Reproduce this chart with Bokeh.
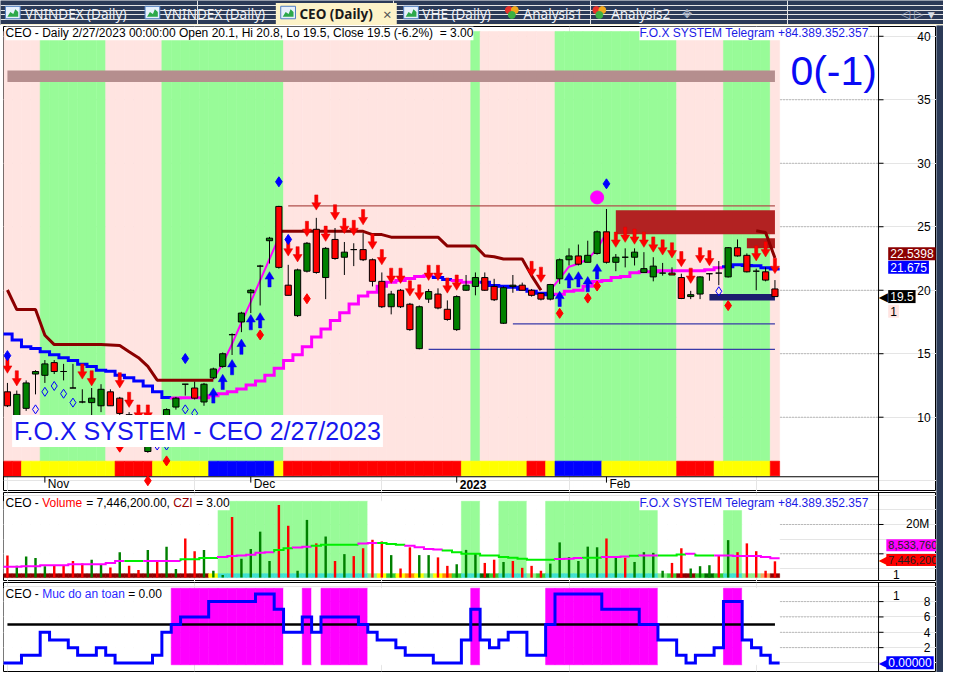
import math
from bokeh.plotting import figure
from bokeh.layouts import column, row
from bokeh.models import Range1d
from bokeh.core.properties import value
from bokeh.embed import file_html
from bokeh.resources import INLINE

_ = float("nan")

# ---------------- chart data ----------------
symbol = "CEO"
last_date = "2/27/2023"
month_ticks = [4, 26, 48, 64]
month_labels = ["Nov", "Dec", "2023", "Feb"]
price_ticks = [10, 15, 20, 25, 30, 35, 40]
vol_ticks = [10, 20]
vol_tick_labels = ["", "20M"]
safety_ticks = [2, 4, 6, 8]

opens = [12.0, 10.0, 10.7, 13.4, 13.3, 14.3, 13.6, 12.3, 11.2, 11.15,
         10.9, 12.0, 11.5, 10.2, 9.2, 7.3, 8.5, 9.8, 10.8, 12.6,
         12.3, 11.2, 13.1, 14.0, 16.5, 17.5, 19.8, 21.9, 23.9, 26.6,
         20.4, 18.0, 21.5, 24.8, 21.0, 24.0, 22.6, 23.2, 23.2, 22.4,
         20.7, 18.7, 20.0, 18.9, 15.4, 19.3, 19.7, 18.5, 16.9, 20.0,
         20.3, 21.0, 20.3, 17.4, 20.3, 20.4, 20.0, 19.75, 19.3, 20.9,
         22.4, 22.7, 22.2, 22.9, 24.6, 22.2, 22.6, 22.6, 21.4, 21.05,
         21.35, 21.35, 21.0, 19.5, 19.7, 21.3, 21.35, 21.05, 23.35, 22.75,
         21.5, 21.45, 20.1]
highs = [12.7, 12.1, 12.9, 13.7, 14.5, 14.5, 14.2, 14.2, 12.2, 12.3,
         12.6, 12.2, 11.6, 10.4, 9.4, 8.6, 9.2, 10.7, 11.6, 12.6,
         12.8, 12.7, 13.9, 15.1, 16.6, 18.3, 20.1, 22.0, 24.2, 26.65,
         22.0, 21.7, 23.8, 25.7, 23.4, 24.9, 23.8, 23.7, 24.5, 22.5,
         21.4, 19.95, 20.1, 19.0, 18.8, 20.1, 20.15, 19.2, 19.6, 21.2,
         21.4, 21.4, 20.9, 20.3, 21.2, 20.6, 20.1, 19.8, 20.5, 22.5,
         23.3, 23.6, 23.9, 24.7, 26.4, 22.85, 23.3, 23.3, 23.0, 22.6,
         22.15, 21.8, 21.3, 19.95, 21.1, 21.35, 22.3, 23.4, 24.0, 22.9,
         21.7, 21.8, 20.8]
lows = [10.8, 9.7, 10.5, 11.8, 12.7, 13.4, 12.9, 12.3, 11.1, 10.0,
        10.4, 10.9, 9.6, 8.8, 8.0, 7.2, 8.3, 9.6, 10.6, 11.7,
        11.4, 10.9, 13.0, 13.9, 14.9, 16.7, 18.2, 18.8, 22.1, 21.7,
        19.6, 17.9, 21.4, 21.3, 19.3, 22.4, 21.2, 21.9, 22.3, 20.3,
        18.6, 18.1, 18.6, 16.8, 15.35, 19.0, 18.5, 17.6, 16.8, 19.95,
        19.6, 19.95, 19.15, 17.35, 19.8, 20.0, 19.5, 19.2, 19.2, 20.5,
        21.95, 21.95, 22.2, 22.8, 22.1, 21.5, 21.8, 21.95, 21.4, 20.7,
        21.15, 21.2, 19.3, 19.3, 19.3, 20.75, 20.4, 21.0, 22.65, 21.4,
        20.0, 20.7, 19.5]
closes = [10.9, 11.8, 12.7, 13.6, 14.2, 13.6, 13.6, 12.3, 11.2, 11.5,
          12.2, 10.9, 10.3, 9.0, 8.3, 8.4, 8.9, 10.6, 11.5, 12.6,
          11.5, 12.6, 13.8, 15.0, 16.5, 18.2, 20.0, 21.9, 24.1, 21.8,
          19.6, 21.6, 23.7, 21.4, 23.3, 22.5, 23.0, 23.2, 22.4, 20.7,
          18.7, 19.7, 18.7, 16.9, 18.7, 19.9, 18.6, 17.7, 19.5, 20.4,
          21.0, 20.0, 19.25, 20.2, 20.4, 20.0, 19.6, 19.3, 20.45, 22.4,
          22.7, 22.05, 22.75, 24.6, 22.2, 22.6, 22.6, 23.0, 21.7, 21.9,
          21.35, 21.2, 19.35, 19.65, 21.05, 21.3, 21.35, 23.35, 22.7, 21.45,
          21.5, 20.8, 19.5]

# trailing stop (dark red), slow trail (blue / magenta), fast trail (magenta)
stop_line = [20.02, 18.48, 18.48, 18.48, 16.46, 15.72, 15.72, 15.72, 15.72, 15.72,
             15.72, 15.69, 15.64, 15.15, 14.69, 14.0, 12.92, 12.92, 12.92, 12.92,
             12.92, 12.92, 12.92, _, _, _, _, _, _, 24.64,
             24.64, 24.64, 24.64, 24.64, 24.64, 24.64, 24.64, 24.64, 24.64, 24.38,
             24.38, 24.18, 24.18, 24.18, 24.18, 24.18, 24.18, 23.48, 23.48, 23.48,
             23.48, 22.72, 22.64, 22.46, 22.46, 22.46, 21.15, 20.0, _, _,
             _, _, _, _, _, _, _, _, _, _,
             _, _, _, _, _, _, _, _, _, _,
             24.69, 24.54, 22.5398]
trail = [16.56, 16.08, 15.54, 15.41, 15.15, 14.92, 14.69, 14.46, 14.18, 14.0,
         13.69, 13.62, 13.31, 13.1, 12.85, 12.46, 12.0, 11.56, 11.52, 11.54,
         11.54, 11.54, 11.69, 11.85, 12.0, 12.23, 12.54, 12.85, 13.31, 13.85,
         14.46, 14.92, 15.54, 16.31, 16.95, 17.62, 18.23, 18.92, 19.54, 19.85,
         20.31, 20.62, 20.77, 20.92, 21.08, 21.15, 21.0, 20.85, 20.77, 20.62,
         20.62, 20.62, 20.38, 20.31, 20.23, 20.08, 19.92, 19.77, 19.64, 19.69,
         19.92, 20.0, 20.31, 20.69, 20.77, 21.0, 21.08, 21.38, 21.46, 21.46,
         21.54, 21.54, 21.54, 21.54, 21.54, 21.62, 21.77, 21.85, 22.0, 21.95,
         21.92, 21.77, 21.675]
trail_up = ("000000000000000000" "1111111111111111111111111111" "00" "111"
            "00000000" "111111111111111111" "000000")
fast_line = [_, _, _, _, _, _, _, _, _, _,
             _, _, _, _, _, _, _, _, _, _,
             _, _, 13.0, 14.23, 15.77, 17.46, 19.08, 20.77, 22.46, 24.15,
             _, _, _, _, _, _, _, _, _, _,
             _, _, _, _, _, _, _, _, _, _,
             _, _, _, _, _, _, _, _, 20.0, 20.92,
             21.85, 22.08, 22.46, 23.23, 24.54, _, _, _, _, _,
             _, _, _, _, _, _, _, _, _, _,
             _, _, _]

regime = ("0000" "1111111" "000000" "1111111111111" "00000000000000000000"
          "1" "00000000" "1111111111111" "00000" "11111" "0")
signal_strip = ("RR" "YYYYYYYYYY" "RRRR" "YYYYYY" "BBBBBBB" "Y"
                "RRRRRRRRRRRRRRRRRRR" "YYYYYYY" "RR" "Y" "BBBBB" "YYYYYYYY"
                "RRRR" "YYYYYY" "R")

sell_idx = [0, 1, 8, 9, 12, 13, 14, 15, 30, 31, 32, 33, 34, 35, 36, 37, 38, 39,
            40, 41, 42, 43, 44, 45, 46, 47, 48, 56, 57, 65, 66, 67, 68, 69, 70,
            71, 72, 73, 74, 75, 80, 81, 82]
sell_tip = [13.46, 12.46, 13.0, 12.46, 12.31, 10.77, 9.77, 9.77, 22.69, 22.23,
            24.23, 26.31, 23.85, 25.54, 24.46, 24.31, 25.15, 23.23, 22.0, 20.54,
            20.54, 19.54, 19.23, 20.77, 20.77, 19.77, 20.0, 21.08, 20.62, 23.38,
            23.77, 23.62, 23.38, 23.0, 22.77, 22.54, 21.85, 20.54, 22.15, 21.92,
            22.31, 22.62, 21.31]
buy_idx = [22, 23, 24, 25, 26, 27, 28, 59, 60, 61, 62, 63]
buy_tip = [12.31, 13.38, 14.54, 16.15, 18.08, 18.23, 21.46, 19.92, 21.38, 21.46, 21.08, 22.08]
blue_dia_idx = [0, 19, 29, 30, 64]
blue_dia_y = [14.85, 14.62, 28.54, 24.0, 28.38]
red_dia_idx = [12, 15, 17, 27, 32, 59, 62, 63, 77]
red_dia_y = [7.64, 5.0, 6.56, 16.48, 19.33, 18.18, 19.38, 20.33, 18.79]
open_dia_idx = [3, 4, 5, 6, 7, 16, 17, 19, 20, 76]
open_dia_y = [10.62, 12.0, 12.46, 11.85, 11.15, 7.77, 7.77, 10.62, 10.31, 19.92]
peak_dot_idx = [63]
peak_dot_y = [27.31]

band_level = [36.4, 37.3]
zone_start = [65, 79, 75]
zone_top = [26.3, 24.1, 19.7]
zone_bottom = [24.4, 23.3, 19.2]
resist_bar = 29
support_bars = [44, 53]

# volume (millions)
volume = [9.45, 5.9, 9.12, 8.56, 5.79, 5.9, 5.9, 7.56, 6.67, 8.0,
          6.45, 5.34, 10.56, 5.9, 4.45, 11.34, 7.56, 12.45, 4.79, 15.23,
          10.9, 11.34, 4.23, 2.78, 22.56, 8.34, 11.67, 17.56, 7.56, 26.67,
          19.56, 4.23, 21.56, 13.56, 15.9, 7.56, 9.9, 9.23, 11.9, 14.79,
          14.23, 9.56, 5.0, 12.23, 9.56, 9.56, 8.79, 5.9, 6.45, 11.34,
          10.0, 6.9, 8.0, 7.23, 7.56, 5.23, 5.9, 4.23, 6.67, 13.9,
          8.9, 7.56, 12.45, 12.23, 15.23, 9.12, 8.67, 7.23, 10.56, 10.34,
          4.23, 6.9, 11.9, 5.0, 5.79, 6.12, 9.45, 14.67, 10.56, 13.56,
          10.9, 4.23, 7.4462]
vol_dir = ("rggggrrrrg" "grgrrgrggr" "rgggrggggr" "rggrgrgrrr" "rgrrggrrgg"
           "grrgrrrrgg" "ggggrgrggg" "grrgggrgrr" "rrr")
vol_ma = [5.56, 5.56, 5.79, 5.79, 6.12, 6.12, 6.12, 6.45, 6.45, 6.45,
          6.45, 6.9, 7.56, 7.56, 7.56, 7.56, 7.56, 7.56, 7.56, 8.12,
          8.12, 8.56, 8.56, 8.9, 9.23, 9.45, 9.67, 10.34, 10.56, 11.34,
          11.9, 12.12, 12.45, 12.79, 13.12, 13.12, 13.12, 13.12, 13.56, 13.67,
          13.67, 13.34, 13.12, 12.79, 12.23, 11.67, 11.45, 11.12, 10.56, 10.0,
          10.0, 9.45, 9.45, 8.9, 8.67, 8.34, 8.0, 8.0, 8.0, 8.23,
          8.34, 8.56, 8.67, 8.67, 8.9, 8.9, 9.12, 9.34, 9.45, 9.45,
          9.45, 9.45, 9.79, 10.0, 9.45, 9.45, 9.45, 9.45, 9.23, 9.23,
          9.23, 8.9, 8.53376]
vol_ma_flag = ("1111111111111" "00" "1111" "0000" "111111" "00" "11" "00000" "11"
               "000" "1111" "000000000000" "111" "00" "111" "0" "11" "000" "1"
               "00" "1111111")
vol_zone = ("00000000000000000000000" "1111111111111111" "0000000000" "11" "00"
            "111" "00" "111111111111" "0000000" "11" "0000")
vol_strip = ("DDDDDDDDDDDDDDDDDDDDDD" "Y" "TTTTTTTTTTTTTTTT" "LYGYOYLYOGTTKG"
             "TTT" "LG" "TTTTTTTTTTTT" "LG" "DD" "GKG" "TT" "LL" "S" "D")

# safety level panel ("Muc do an toan")
safety = [0, 0, 1, 1, 4, 3, 3, 2, 1, 1,
          2, 1, 0, 0, 0, 0, 1, 4, 5, 6,
          6, 6, 8, 8, 8, 8, 8, 9, 9, 7,
          4, 4, 6, 4, 6, 6, 6, 6, 5, 4,
          3, 3, 2, 1, 1, 1, 0, 0, 0, 3,
          7, 3, 2, 3, 4, 4, 1, 1, 5, 9,
          9, 9, 9, 9, 7, 7, 7, 7, 5, 5,
          3, 3, 1, 0, 1, 1, 2, 8, 8, 3,
          2, 1, 0]
safety_zone = ("000000000000000000" "111111111111" "00" "1" "0" "11111"
               "00000000000" "1" "0000000" "111111111111" "0000000" "11" "0000")
safety_level = 5

tab_names = ["VNINDEX (Daily)", "VNINDEX (Daily)", "CEO (Daily)", "VHE (Daily)"]
analysis_names = ["Analysis1", "Analysis2"]

# ---------------- styling helpers ----------------
FONT = "Liberation Sans"
TABFONT = "Noto Sans"
NAVY = "#2b3a57"
TAB_ACT = "#fdf3c8"
GREEN_BG = "#98fb98"
PINK_BG = "#ffe4e1"
GRID = "#8c8c8c"
NB = "\u00a0"
N = len(closes)
xs = list(range(N))

ARIAL = {' ': 278, NB: 278, ',': 278, '.': 278, '-': 333, ':': 278, '/': 278,
         '=': 584, '+': 584, '(': 333, ')': 333, '%': 889}
for ch in "0123456789":
    ARIAL[ch] = 556
ARIAL.update(dict(A=667, B=667, C=722, D=722, E=667, F=611, G=778, H=722, I=278,
                  J=500, K=667, L=556, M=833, N=722, O=778, P=667, Q=778, R=722,
                  S=667, T=611, U=722, V=667, W=944, X=667, Y=667, Z=611))
ARIAL.update(dict(a=556, b=556, c=500, d=556, e=556, f=278, g=556, h=556, i=222,
                  j=222, k=500, l=222, m=833, n=556, o=556, p=556, q=556, r=333,
                  s=500, t=278, u=556, v=500, w=722, x=500, y=500, z=500))


def text_w(s, px):
    return sum(ARIAL.get(c, 556) for c in s) * px / 1000.0


X0, X_AX, XR = -0.42, 93.07, 99.26   # frame left, value-axis line, frame right (bar units)
TICK_LEN = 0.53
xr = Range1d(X0, XR)


def make_panel(height, yr, top=1, bottom=0):
    f = figure(width=936, height=height, x_range=xr, y_range=yr,
               x_axis_location=None, y_axis_location=None,
               toolbar_location=None, output_backend="svg",
               min_border_left=3, min_border_right=0,
               min_border_top=top, min_border_bottom=bottom,
               background_fill_color="white", border_fill_color="white",
               outline_line_color="black", outline_line_width=1)
    return f


def grid_lines(f, ticks):
    n = len(ticks)
    f.segment(x0=[X0] * n, x1=[X_AX] * n, y0=ticks, y1=ticks,
              line_color=GRID, line_dash="1 2", line_width=1)


def value_axis(f, ticks, labels, label_x, yr):
    n = len(ticks)
    f.segment(x0=[X_AX], x1=[X_AX], y0=[yr.start], y1=[yr.end], line_color="black", line_width=1)
    f.segment(x0=[X_AX] * n, x1=[X_AX + TICK_LEN] * n, y0=ticks, y1=ticks,
              line_color="black", line_width=1)
    f.text(x=[label_x] * n, y=ticks, text=labels, text_color="black",
           text_font=value(FONT), text_font_size="12px", text_baseline="middle",
           text_align="left")


def step_runs(vals, flags, c_on, c_off):
    xl, yl, cl = [], [], []
    n = len(vals)
    i = 0
    while i < n:
        fl = flags[i]
        j = i
        while j + 1 < n and flags[j + 1] == fl:
            j += 1
        px, py = [], []
        if i > 0:
            px.append(i - 0.5)
            py.append(vals[i - 1])
        for k in range(i, j + 1):
            px += [k - 0.5, k + 0.5]
            py += [vals[k], vals[k]]
        xl.append(px)
        yl.append(py)
        cl.append(c_on if fl == "1" else c_off)
        i = j + 1
    return xl, yl, cl


def colored_title(f, y, parts, px=12):
    offs, txt, cols = [], [], []
    o = 2.0
    for s, c in parts:
        s = s.replace(" ", NB)
        offs.append(o)
        txt.append(s)
        cols.append(c)
        o += text_w(s, px)
    f.text(x=[X0] * len(txt), y=[y] * len(txt), text=txt, text_color=cols,
           x_offset=offs, text_font=value(FONT), text_font_size=f"{px}px",
           text_baseline="middle", text_align="left",
           background_fill_color="white")


def telegram(f, y):
    f.text(x=[92.0], y=[y], text=["F.O.X SYSTEM Telegram +84.389.352.357"],
           text_color="#1a1ae6", text_font=value(FONT), text_font_size="12px",
           text_baseline="middle", text_align="right",
           background_fill_color="white")


def value_box(f, y, txt, bg, fg, pointer=False, x=94.1, size="12px"):
    if pointer:
        f.text(x=[93.1], y=[y], text=["\u25c0"], text_color=bg,
               text_font=value("DejaVu Sans"), text_font_size="12px",
               text_baseline="middle", text_align="left")
    f.text(x=[x], y=[y], text=[txt], text_color=fg, text_font=value(FONT),
           text_font_size=size, text_baseline="middle", text_align="left",
           background_fill_color=bg, padding=2)


# ---------------- tab bar ----------------
tb = figure(width=943, height=25, x_range=Range1d(0, 959), y_range=Range1d(26, 0),
            x_axis_location=None, y_axis_location=None, toolbar_location=None,
            output_backend="svg", min_border=0, outline_line_color=None,
            background_fill_color=NAVY, border_fill_color=NAVY)
tb.quad(left=[280], right=[403], top=[2.5], bottom=[26], fill_color=TAB_ACT, line_color=None)
tb.quad(left=[0], right=[959], top=[24.8], bottom=[26], fill_color=TAB_ACT, line_color=None)
icon_x = [5, 147, 285, 410]
tb.quad(left=icon_x, right=[x + 15 for x in icon_x], top=[6] * 4, bottom=[19] * 4,
        fill_color="#e6f0fb", line_color="#4f7fc4", line_width=1)
tb.patches([[x + 2, x + 5, x + 8, x + 10, x + 13, x + 13, x + 2] for x in icon_x],
           [[17, 12, 14, 9, 12, 17, 17] for x in icon_x],
           fill_color="#2da84a", line_color=None)
heart_x = [513, 602]
tb.scatter([x + 4 for x in heart_x], [10] * 2, size=7, color="#e8322a")
tb.scatter([x + 10 for x in heart_x], [10] * 2, size=7, color="#f2a81c")
tb.scatter([x + 7 for x in heart_x], [15] * 2, size=7, color="#3cb043")
tb.text(x=[25, 166, 429], y=[14] * 3, text=[tab_names[0], tab_names[1], tab_names[3]],
        text_color="#eef1f6", text_font=value(TABFONT), text_font_size="13.5px",
        text_baseline="middle")
tb.text(x=[304], y=[14], text=[tab_names[2]], text_color="#1a1a1a",
        text_font=value(TABFONT), text_font_size="13.5px", text_font_style="bold",
        text_baseline="middle")
tb.text(x=[389], y=[14], text=["\u00d7"], text_color="#555555",
        text_font=value(TABFONT), text_font_size="15px", text_baseline="middle")
tb.text(x=[532, 621], y=[14] * 2, text=analysis_names, text_color="#eef1f6",
        text_font=value(TABFONT), text_font_size="13.5px", text_baseline="middle")
tb.text(x=[693, 916, 929], y=[14] * 3, text=["\u2725", "\u25c1", "\u25b7"],
        text_color="#a9b2c4", text_font=value("DejaVu Sans"), text_font_size="12px",
        text_baseline="middle")
tb.text(x=[943], y=[15], text=["\u25bc"], text_color="#d8dde6",
        text_font=value("DejaVu Sans"), text_font_size="9px", text_baseline="middle")

# ---------------- price panel ----------------
pyr = Range1d(4.15, 40.77)
p = make_panel(466, pyr)
grid_lines(p, price_ticks)

BAND_TOP, BAND_BOT, STRIP_BOT, AXIS_Y = 40.38, 6.54, 5.38, 5.31
bc = [GREEN_BG if r == "1" else PINK_BG for r in regime]
p.vbar(x=xs, width=1, top=BAND_TOP, bottom=BAND_BOT, fill_color=bc, line_color=bc, line_width=0.6)
smap = {"R": "#ff0000", "Y": "#ffff00", "B": "#0000ff"}
sc = [smap[c] for c in signal_strip]
p.vbar(x=xs, width=1, top=BAND_BOT, bottom=STRIP_BOT, fill_color=sc, line_color=sc, line_width=0.6)
p.segment(x0=[X0], x1=[X_AX], y0=[AXIS_Y], y1=[AXIS_Y], line_color="black", line_width=1.2)
p.segment(x0=month_ticks, x1=month_ticks, y0=[AXIS_Y] * 4, y1=[4.85] * 4, line_color="black")
p.text(x=month_ticks, y=[4.74] * 4, text=month_labels, x_offset=3,
       text_font=value(FONT), text_font_size="12px", text_baseline="middle",
       text_font_style=["bold" if m.isdigit() else "normal" for m in month_labels],
       text_color="black")

p.quad(left=[xs[0]], right=[xs[-1]], top=[band_level[1]], bottom=[band_level[0]],
       fill_color="#b58e8e", line_color=None)

zcols = ["#b22222", "#ad1a1a", "#1c1c6e"]
p.quad(left=zone_start, right=[xs[-1]] * 3, top=zone_top, bottom=zone_bottom,
       fill_color=zcols, line_color=None)

p.segment(x0=[resist_bar + 1], x1=[xs[-1]], y0=[highs[resist_bar]], y1=[highs[resist_bar]],
          line_color="#b0504c", line_width=1.3)
p.segment(x0=[b + 1 for b in support_bars], x1=[xs[-1]] * 2,
          y0=[lows[b] for b in support_bars], y1=[lows[b] for b in support_bars],
          line_color="#3a3aa8", line_width=1.3)

txl, tyl, tcl = step_runs(trail, trail_up, "#ff00ff", "#0000ff")
p.multi_line(txl, tyl, line_color=tcl, line_width=3, line_join="miter")
p.line(xs, fast_line, line_color="#ff00ff", line_width=2)
p.line(xs, stop_line, line_color="#8b0000", line_width=3)

p.segment(x0=xs, x1=xs, y0=lows, y1=highs, line_color="black", line_width=1)
body_top = [max(o, c) for o, c in zip(opens, closes)]
body_bot = [min(o, c) for o, c in zip(opens, closes)]
body_col = ["#008000" if c > o else "#ff0000" for o, c in zip(opens, closes)]
p.vbar(x=xs, width=0.66, top=body_top, bottom=body_bot, fill_color=body_col,
       line_color="black", line_width=1)


def arrows(idx, tips, s):
    HW, SW, HH, AL = 0.48, 0.17, 0.58, 1.2
    ax_, ay_ = [], []
    for i, t in zip(idx, tips):
        ax_.append([i, i - HW, i - SW, i - SW, i + SW, i + SW, i + HW])
        ay_.append([t, t + s * HH, t + s * HH, t + s * AL, t + s * AL, t + s * HH, t + s * HH])
    return ax_, ay_


sx, sy = arrows(sell_idx, sell_tip, 1)
p.patches(sx, sy, fill_color="#ff0000", line_color="#e00000", line_width=0.5)
bx, by = arrows(buy_idx, buy_tip, -1)
p.patches(bx, by, fill_color="#0000ff", line_color="#0000e0", line_width=0.5)

p.scatter(blue_dia_idx, blue_dia_y, marker="diamond", size=10, color="#0000ff")
p.scatter(red_dia_idx, red_dia_y, marker="diamond", size=10, color="#ff0000")
p.scatter(open_dia_idx, open_dia_y, marker="diamond", size=9, fill_color=None,
          line_color="#0000ff", line_width=1)
p.scatter(peak_dot_idx, peak_dot_y, marker="circle", size=13, color="#ff00ff")

title_txt = (f"{symbol} - Daily {last_date} 00:00:00 Open {opens[-1]:g}, Hi {highs[-1]:g}, "
             f"Lo {lows[-1]:g}, Close {closes[-1]:g} (-6.2%)  = 3.00")
colored_title(p, 40.23, [(title_txt, "black")])
telegram(p, 40.23)
p.text(x=[92.9], y=[37.25], text=["0(-1)"], text_color="#0a0af5", text_font=value(FONT),
       text_font_size="41px", text_align="right", text_baseline="middle")
p.text(x=[0.5], y=[8.92], text=[f"F.O.X SYSTEM - {symbol} {last_date}"], text_color="#1818ee",
       text_font=value(FONT), text_font_size="25px", text_align="left",
       text_baseline="middle", background_fill_color="white", padding=2)

value_axis(p, price_ticks, [str(t) for t in price_ticks], 97.2, pyr)
value_box(p, 22.88, f"{stop_line[-1]:g}", "#8b0000", "white")
value_box(p, 21.81, f"{trail[-1]:g}", "#0000ff", "white")
value_box(p, closes[-1], f"{closes[-1]:g}", "#000000", "white", pointer=True)
value_box(p, 18.35, "1", PINK_BG, "black")

# ---------------- volume panel ----------------
vyr = Range1d(0.57, 30.9)
v = make_panel(90, vyr)
grid_lines(v, vol_ticks)
VZ_TOP, VZ_BOT, VS_BOT = 27.9, 3.23, 1.9
vz = [GREEN_BG if z == "1" else "white" for z in vol_zone]
v.vbar(x=xs, width=1, top=VZ_TOP, bottom=VZ_BOT, fill_color=vz, line_color=vz, line_width=0.6)
vsmap = {"D": "#8b0000", "Y": "#ffff00", "T": "#40e0d0", "L": "#90ee90",
         "G": "#32cd32", "O": "#ff8c00", "K": "#006400", "S": "#f4a460"}
vsc = [vsmap[c] for c in vol_strip]
v.vbar(x=xs, width=1, top=VZ_BOT, bottom=VS_BOT, fill_color=vsc, line_color=vsc, line_width=0.6)
vcol = ["#ff0000" if d == "r" else "#008000" for d in vol_dir]
v.vbar(x=xs, width=0.26, top=volume, bottom=VS_BOT, fill_color=vcol, line_color=None)
mxl, myl, mcl = step_runs(vol_ma, vol_ma_flag, "#ff00ff", "#00ee00")
v.multi_line(mxl, myl, line_color=mcl, line_width=2, line_join="miter")
colored_title(v, 27.2, [(f"{symbol} - ", "black"), ("Volume", "#ff0000"),
                        (f" = {volume[-1] * 1e6:,.2f}, ", "black"), ("CZI", "#990000"),
                        (" = 3.00", "black")])
telegram(v, 27.2)
value_axis(v, vol_ticks, vol_tick_labels, 96.0, vyr)
value_box(v, 12.9, f"{vol_ma[-1] * 1e6:,.0f}", "#ff00ff", "#202020", x=93.9, size="11px")
value_box(v, 7.9, f"{volume[-1] * 1e6:,.0f}", "#ff0000", "#202020", pointer=True, x=93.9, size="11px")
v.text(x=[94.6], y=[2.9], text=["1"], text_color="black", text_font=value(FONT),
       text_font_size="12px", text_baseline="middle")

# ---------------- safety panel ----------------
byr = Range1d(-1.11, 10.49)
b = make_panel(91, byr, top=1, bottom=1)
grid_lines(b, safety_ticks)
sz = ["#ff00ff" if z == "1" else "white" for z in safety_zone]
b.vbar(x=xs, width=1, top=9.74, bottom=-0.23, fill_color=sz, line_color=sz, line_width=0.6)
b.segment(x0=[xs[0]], x1=[xs[-1]], y0=[safety_level], y1=[safety_level],
          line_color="black", line_width=2.5)
fxl, fyl, fcl = step_runs(safety, "1" * N, "#0000ff", "#0000ff")
b.multi_line(fxl, fyl, line_color=fcl, line_width=3, line_join="miter")
colored_title(b, 8.98, [(f"{symbol} - ", "black"), ("Muc do an toan", "#2a2aff"),
                        (f" = {safety[-1]:.2f}", "black")])
value_axis(b, safety_ticks, [str(t) for t in safety_ticks], 97.9, byr)
value_box(b, safety[-1] + 0.03, f"{safety[-1]:.5f}", "#0000ff", "white", pointer=True, x=93.9)
b.text(x=[94.6], y=[8.85], text=["1"], text_color="black", text_font=value(FONT),
       text_font_size="12px", text_baseline="middle")

# ---------------- right frame strip ----------------
edge = figure(width=7, height=647, x_range=Range1d(0, 1), y_range=Range1d(0, 1),
              x_axis_location=None, y_axis_location=None, toolbar_location=None,
              output_backend="svg", min_border=0, outline_line_color=None,
              background_fill_color=NAVY, border_fill_color=NAVY)
edge.quad(left=[0], right=[1], top=[1], bottom=[0], fill_color=NAVY, line_color=None)

layout = column(tb, row(column(p, v, b), edge))
open("out.html", "w").write(file_html(layout, INLINE))
